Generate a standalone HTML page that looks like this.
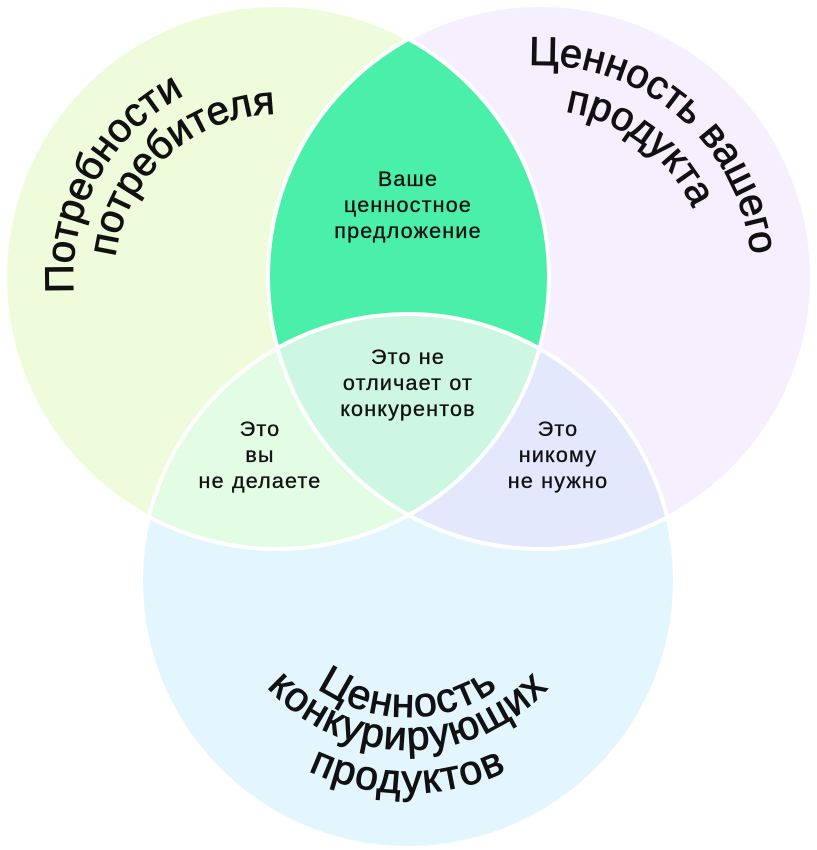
<!DOCTYPE html>
<html><head><meta charset="utf-8"><style>
html,body{margin:0;padding:0;background:#fff;}
svg{display:block;}
text{font-family:"Liberation Sans","DejaVu Sans",sans-serif;fill:#111;}
.big{font-size:40px;stroke:#111;stroke-width:0.9px;}
.bb{font-size:41px;letter-spacing:1.5px;}
.sm{font-size:21.5px;text-anchor:middle;letter-spacing:1.2px;stroke:#111;stroke-width:0.35px;}
</style></head><body>
<svg width="817" height="850" viewBox="0 0 817 850" xmlns="http://www.w3.org/2000/svg">
<defs>
<clipPath id="cL"><circle cx="277" cy="277" r="272"/></clipPath>
<clipPath id="cR"><circle cx="540" cy="277" r="272"/></clipPath>
<path id="pL1" d="M73.6,293 A204,204 0 0 1 453.7,175"/>
<path id="pL2" d="M115.2,257.1 A163,163 0 0 1 430.2,221.3"/>
<path id="pR1" d="M528.9,65.3 A212,212 0 0 1 702.4,413.3"/>
<path id="pR2" d="M565.2,111.6 A168,168 0 0 1 668.7,385"/>
<path id="pB1" d="M260.5,613.7 A157,157 0 0 0 555.5,613.7"/>
<path id="pB2" d="M229.5,625 A190,190 0 0 0 586.5,625"/>
<path id="pB3" d="M189,639.7 A233,233 0 0 0 627,639.7"/>
</defs>
<circle cx="277" cy="277" r="272" fill="#eefcdc"/>
<circle cx="540" cy="277" r="272" fill="#f6effd"/>
<circle cx="408" cy="581" r="267" fill="#e4f6fd"/>
<g clip-path="url(#cL)"><circle cx="540" cy="277" r="272" fill="#4af0aa"/></g>
<g clip-path="url(#cL)"><circle cx="408" cy="581" r="267" fill="#e3fce4"/></g>
<g clip-path="url(#cR)"><circle cx="408" cy="581" r="267" fill="#e3e8fd"/></g>
<g clip-path="url(#cL)"><g clip-path="url(#cR)"><circle cx="408" cy="581" r="267" fill="#cdf7e3"/></g></g>
<g fill="none" stroke="#fff" stroke-width="4">
<circle cx="277" cy="277" r="272"/>
<circle cx="540" cy="277" r="272"/>
<circle cx="408" cy="581" r="267"/>
</g>
<text class="big"><textPath href="#pL1">Потребности</textPath></text>
<text class="big"><textPath href="#pL2">потребителя</textPath></text>
<text class="big"><textPath href="#pR1">Ценность вашего</textPath></text>
<text class="big"><textPath href="#pR2">продукта</textPath></text>
<text class="big bb" text-anchor="middle"><textPath href="#pB1" startOffset="50%">Ценность</textPath></text>
<text class="big bb" text-anchor="middle"><textPath href="#pB2" startOffset="50%">конкурирующих</textPath></text>
<text class="big bb" text-anchor="middle"><textPath href="#pB3" startOffset="50%">продуктов</textPath></text>
<text class="sm" x="408" y="186">Ваше</text>
<text class="sm" x="408" y="212">ценностное</text>
<text class="sm" x="408" y="238">предложение</text>
<text class="sm" x="408" y="364">Это не</text>
<text class="sm" x="408" y="390">отличает от</text>
<text class="sm" x="408" y="416">конкурентов</text>
<text class="sm" x="260" y="436">Это</text>
<text class="sm" x="260" y="462">вы</text>
<text class="sm" x="260" y="488">не делаете</text>
<text class="sm" x="558" y="436">Это</text>
<text class="sm" x="558" y="462">никому</text>
<text class="sm" x="558" y="488">не нужно</text>
</svg>
</body></html>
